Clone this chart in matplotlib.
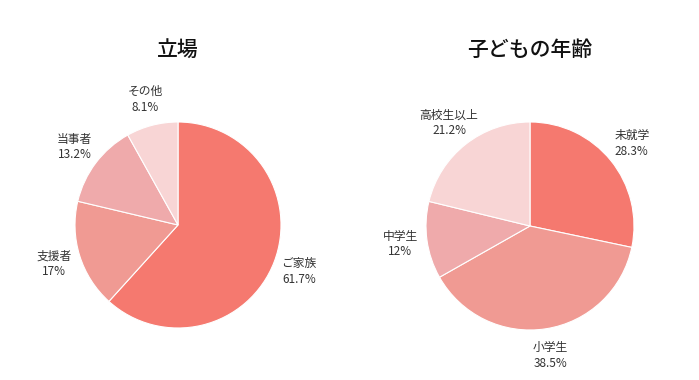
import matplotlib.pyplot as plt

plt.rcParams['font.family'] = ['Noto Sans CJK JP', 'DejaVu Sans']

# left pie: 立場
role_labels = ['ご家族', '支援者', '当事者', 'その他']
role_values = [61.7, 17, 13.2, 8.1]

# right pie: 子どもの年齢
age_labels = ['未就学', '小学生', '中学生', '高校生以上']
age_values = [28.3, 38.5, 12, 21.2]

colors = ['#F5796F', '#F09A93', '#EFAAAB', '#F8D5D5']

W, H = 699, 380
fig = plt.figure(figsize=(W / 100, H / 100), dpi=100)


def draw_pie(cx, cy, r, labels, values, title):
    ax = fig.add_axes([(cx - r) / W, (H - cy - r) / H, 2 * r / W, 2 * r / H])
    texts = [f'{l}\n{v:g}%' for l, v in zip(labels, values)]
    wedges, lbls = ax.pie(values, labels=texts, colors=colors, startangle=90,
                          counterclock=False, labeldistance=1.26,
                          wedgeprops=dict(edgecolor='white', linewidth=0.8),
                          textprops=dict(fontsize=8.5, color='#333333'))
    for t in lbls:
        t.set_ha('center')
        t.set_va('center')
        t.set_multialignment('center')
        t.set_linespacing(1.25)
    ax.set_xlim(-1, 1)
    ax.set_ylim(-1, 1)
    ax.set_aspect('equal')
    fig.text(cx / W, 1 - 50 / H, title, ha='center', va='center',
             fontsize=15, fontweight='medium', color='#111111')


draw_pie(178, 225, 103, role_labels, role_values, '立場')
draw_pie(530, 226, 104, age_labels, age_values, '子どもの年齢')

fig.savefig('out.png', dpi=100, facecolor='white')
